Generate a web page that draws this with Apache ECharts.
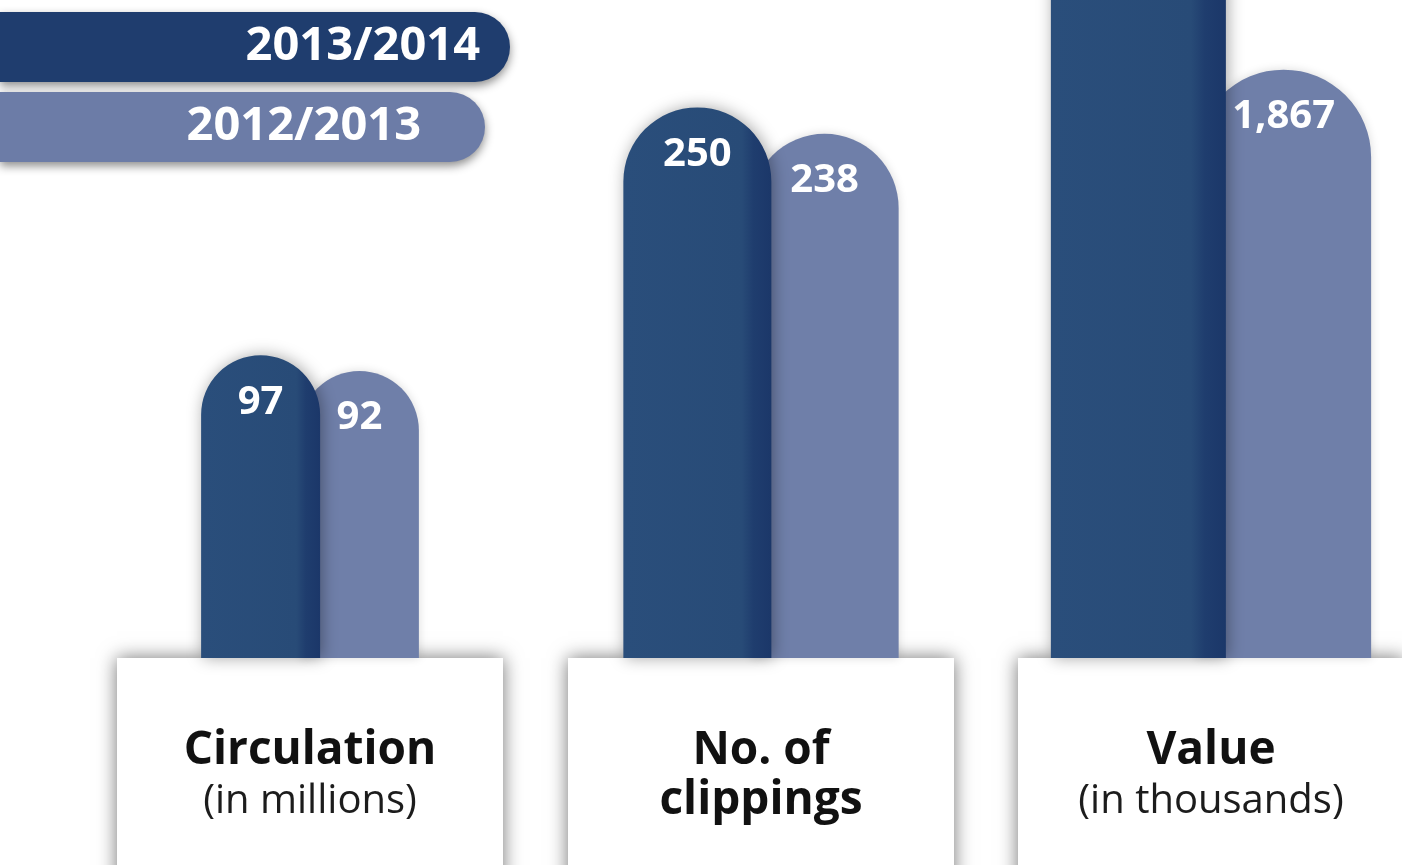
<!DOCTYPE html>
<html>
<head>
<meta charset="utf-8">
<script src="https://cdn.jsdelivr.net/npm/echarts@6/dist/echarts.min.js"></script>
<style>
html,body{margin:0;padding:0;background:#fff;}
#chart{width:1402px;height:865px;}
</style>
</head>
<body>
<div id="chart"></div>
<script>
// ---- data ----
const seriesNames = ['2013/2014', '2012/2013'];
const categories = ['Circulation', 'No. of clippings', 'Value'];
const categoryTitleLines = [['Circulation'], ['No. of', 'clippings'], ['Value']];
const categoryUnits = ['(in millions)', '', '(in thousands)'];
const values2013_2014 = [97, 250, 2500];   // last value is cut off in the reference (estimated)
const values2012_2013 = [92, 238, 1867];
const axisMax = [307, 435, 3040];          // each panel has its own scale

// ---- layout ----
const gridLefts = [116, 567, 1017];
const gridWidth = 388;
const barWidths = [119, 148, 175];
const barGaps = ['-17%', '-14%', '-17%'];

const darkFill = {
  type: 'linear', x: 0, y: 0, x2: 1, y2: 0,
  colorStops: [
    {offset: 0, color: '#2a4e7b'},
    {offset: 0.8, color: '#284b77'},
    {offset: 0.88, color: '#1f3d6e'},
    {offset: 1, color: '#1b3769'}
  ]
};
const lightFill = '#6f7fa9';

const grids = [], xAxes = [], yAxes = [], series = [];
categories.forEach((cat, i) => {
  grids.push({left: gridLefts[i], width: gridWidth, top: -300, bottom: 207,
              containLabel: false, outerBoundsMode: 'none'});
  xAxes.push({
    type: 'category', gridIndex: i, data: [cat],
    axisLine: {show: false}, axisTick: {show: false}, splitLine: {show: false},
    z: 1,
    axisLabel: {
      interval: 0, margin: 0,
      formatter: () => {
        const lines = categoryTitleLines[i].map(t => '{b|' + t + '}');
        if (categoryUnits[i]) lines.push('{r|' + categoryUnits[i] + '}');
        return lines.join('\n');
      },
      backgroundColor: '#ffffff',
      width: 386,
      padding: [68, 0, 70, 0],
      shadowBlur: 18,
      shadowColor: 'rgba(0,0,0,0.55)',
      rich: {
        b: {fontFamily: 'Open Sans', fontWeight: 'bold', fontSize: 46, color: '#111111', lineHeight: 50, align: 'center'},
        r: {fontFamily: 'Open Sans', fontSize: 40, color: '#1c1c1c', lineHeight: 52, align: 'center'}
      }
    }
  });
  yAxes.push({type: 'value', gridIndex: i, min: 0, max: axisMax[i], show: false, splitLine: {show: false}});
  const lbl = {
    show: true, position: 'insideTop', distance: 27,
    color: '#ffffff', fontFamily: 'Open Sans', fontWeight: 'bold', fontSize: 40,
    formatter: p => Number(p.value).toLocaleString('en-US')
  };
  series.push({
    name: seriesNames[0], type: 'bar', xAxisIndex: i, yAxisIndex: i, z: 4,
    barWidth: barWidths[i], barGap: barGaps[i],
    data: [values2013_2014[i]],
    itemStyle: {
      color: darkFill,
      borderRadius: [barWidths[i] / 2, barWidths[i] / 2, 0, 0],
      shadowBlur: 16, shadowColor: 'rgba(0,0,0,0.35)', shadowOffsetX: 2
    },
    label: lbl,
    emphasis: {disabled: true}
  });
  series.push({
    name: seriesNames[1], type: 'bar', xAxisIndex: i, yAxisIndex: i, z: 3,
    barWidth: barWidths[i], barGap: barGaps[i],
    data: [values2012_2013[i]],
    itemStyle: {
      color: lightFill,
      borderRadius: [barWidths[i] / 2, barWidths[i] / 2, 0, 0],
      shadowBlur: 10, shadowColor: 'rgba(0,0,0,0.15)'
    },
    label: lbl,
    emphasis: {disabled: true}
  });
});

const legendKeys = ['d', 'l'];
const option = {
  animation: false,
  backgroundColor: '#ffffff',
  grid: grids,
  xAxis: xAxes,
  yAxis: yAxes,
  legend: {
    orient: 'vertical', left: -5, top: 12, itemGap: 10, padding: 0,
    itemWidth: 0, itemHeight: 0, icon: 'none', selectedMode: false,
    data: seriesNames,
    formatter: name => '{' + legendKeys[seriesNames.indexOf(name)] + '|' + name + '}',
    textStyle: {
      rich: {
        d: {
          width: 480, align: 'right', padding: [0, 30, 0, 0], height: 70, lineHeight: 70,
          color: '#ffffff', fontFamily: 'Open Sans', fontWeight: 'bold', fontSize: 47,
          backgroundColor: '#1f3d6e', borderRadius: [0, 35, 35, 0],
          shadowBlur: 10, shadowColor: 'rgba(0,0,0,0.45)', shadowOffsetY: 4
        },
        l: {
          width: 421, align: 'right', padding: [0, 64, 0, 0], height: 70, lineHeight: 70,
          color: '#ffffff', fontFamily: 'Open Sans', fontWeight: 'bold', fontSize: 47,
          backgroundColor: '#6c7ca7', borderRadius: [0, 35, 35, 0],
          shadowBlur: 10, shadowColor: 'rgba(0,0,0,0.45)', shadowOffsetY: 4
        }
      }
    }
  },
  series: series
};

const chart = echarts.init(document.getElementById('chart'), null, {renderer: 'canvas'});
chart.setOption(option);
</script>
</body>
</html>
